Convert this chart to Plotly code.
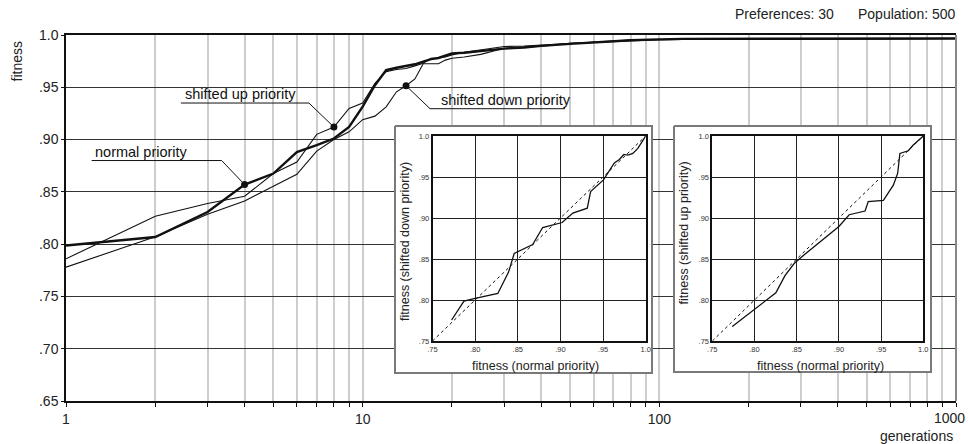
import numpy as np
import plotly.graph_objects as go

# ---------------- data ----------------
GENERATIONS = [1, 2, 3, 4, 5, 6, 7, 8, 9, 10, 11, 12, 13, 14, 15, 16, 17, 18, 19, 20,
               22, 25, 30, 35, 40, 50, 60, 70, 80, 100, 120, 1000]
NORMAL = [0.7987, 0.8068, 0.8307, 0.8570, 0.8675, 0.8880, 0.8946, 0.9010, 0.9120, 0.9314,
          0.9520, 0.9665, 0.9687, 0.9703, 0.9720, 0.9745, 0.9770, 0.9780, 0.9800, 0.9824,
          0.9830, 0.9845, 0.9870, 0.9880, 0.9896, 0.9915, 0.9930, 0.9940, 0.9950, 0.9958,
          0.9963, 0.9966]
SHIFTED_UP = [0.7860, 0.8266, 0.8388, 0.8458, 0.8675, 0.8786, 0.9050, 0.9120, 0.9298, 0.9350,
              0.9537, 0.9650, 0.9670, 0.9680, 0.9705, 0.9730, 0.9777, 0.9780, 0.9790, 0.9810,
              0.9835, 0.9856, 0.9890, 0.9895, 0.9904, 0.9926, 0.9936, 0.9942, 0.9952, 0.9955,
              0.9958, 0.9966]
SHIFTED_DOWN = [0.7780, 0.8070, 0.8285, 0.8412, 0.8553, 0.8668, 0.8890, 0.9000, 0.9074, 0.9190,
                0.9224, 0.9313, 0.9457, 0.9515, 0.9580, 0.9725, 0.9725, 0.9725, 0.9760, 0.9777,
                0.9790, 0.9815, 0.9873, 0.9885, 0.9894, 0.9920, 0.9930, 0.9938, 0.9948, 0.9955,
                0.9958, 0.9966]

MAIN_Y_TICKS = [0.65, 0.70, 0.75, 0.80, 0.85, 0.90, 0.95, 1.0]
MAIN_Y_LABELS = [".65", ".70", ".75", ".80", ".85", ".90", ".95", "1.0"]
MAIN_X_DECADES = [1, 10, 100]
LAST_X_LABEL = "1000"

INSET_TICKS = [0.75, 0.80, 0.85, 0.90, 0.95, 1.0]
INSET_LABELS = [".75", ".80", ".85", ".90", ".95", "1.0"]
DIAGONAL = [0.75, 1.0]

# inset 1: normal vs shifted down
INSET1_NORMAL = [0.7724, 0.7869, 0.8000, 0.8266, 0.8392, 0.8458, 0.8675, 0.8792, 0.9020, 0.9146,
                 0.9315, 0.9354, 0.9505, 0.9570, 0.9632, 0.9691, 0.9743, 0.9790, 0.9849, 0.9908,
                 0.9967, 1.0]
INSET1_DOWN = [0.7756, 0.7987, 0.8020, 0.8080, 0.8340, 0.8567, 0.8677, 0.8884, 0.8945, 0.9060,
               0.9120, 0.9322, 0.9465, 0.9580, 0.9672, 0.9713, 0.9775, 0.9766, 0.9787, 0.9848,
               0.9951, 1.0]
# inset 2: normal vs shifted up
INSET2_NORMAL = [0.7737, 0.8000, 0.8253, 0.8361, 0.8472, 0.8586, 0.9000, 0.9122, 0.9310, 0.9348,
                 0.9527, 0.9645, 0.9696, 0.9723, 0.9822, 0.9881, 1.0]
INSET2_UP = [0.7676, 0.7888, 0.8088, 0.8297, 0.8448, 0.8550, 0.8897, 0.9040, 0.9085, 0.9200,
             0.9216, 0.9400, 0.9543, 0.9787, 0.9820, 0.9890, 1.0]

LABELS = [("normal priority", 4, NORMAL), ("shifted up priority", 8, SHIFTED_UP),
          ("shifted down priority", 14, SHIFTED_DOWN)]

# ---------------- layout helpers ----------------
W, H = 968, 444
L, R, T, B = 66, 12, 35, 43
PW, PH = W - L - R, H - T - B
XR = [0, 3]
YR = [0.65, 1.0]


def px(x):
    return (x - L) / PW


def py(y):
    return (H - B - y) / PH


def data_to_px(g, v):
    return (L + (np.log10(g) - XR[0]) / (XR[1] - XR[0]) * PW,
            T + (YR[1] - v) / (YR[1] - YR[0]) * PH)


def px_to_data(x, y):
    return (10 ** (XR[0] + (x - L) / PW * (XR[1] - XR[0])),
            YR[1] - (y - T) / PH * (YR[1] - YR[0]))


FONT = "Liberation Sans, Arial, sans-serif"
INK = "#111111"

fig = go.Figure()

# inset backgrounds (white panels covering the main grid)
for (x0, x1, y0, y1) in [(395, 652, 126, 373), (674, 931, 126, 372)]:
    corners = [px_to_data(x0, y0), px_to_data(x1, y0), px_to_data(x1, y1),
               px_to_data(x0, y1), px_to_data(x0, y0)]
    fig.add_trace(go.Scatter(x=[c[0] for c in corners], y=[c[1] for c in corners],
                             mode="lines", fill="toself", fillcolor="white",
                             line=dict(color="#7a7a7a", width=2), hoverinfo="skip",
                             xaxis="x", yaxis="y"))

# main curves
fig.add_trace(go.Scatter(x=GENERATIONS, y=SHIFTED_DOWN, mode="lines",
                         line=dict(color=INK, width=1.1), xaxis="x", yaxis="y"))
fig.add_trace(go.Scatter(x=GENERATIONS, y=SHIFTED_UP, mode="lines",
                         line=dict(color=INK, width=1.1), xaxis="x", yaxis="y"))
fig.add_trace(go.Scatter(x=GENERATIONS, y=NORMAL, mode="lines",
                         line=dict(color=INK, width=2.4), xaxis="x", yaxis="y"))

# label dots
dot_x = [g for _, g, _ in LABELS]
dot_y = [s[GENERATIONS.index(g)] for _, g, s in LABELS]
fig.add_trace(go.Scatter(x=dot_x, y=dot_y, mode="markers",
                         marker=dict(color=INK, size=7), xaxis="x", yaxis="y"))

# inset traces
fig.add_trace(go.Scatter(x=DIAGONAL, y=DIAGONAL, mode="lines",
                         line=dict(color=INK, width=1, dash="dot"), xaxis="x2", yaxis="y2"))
fig.add_trace(go.Scatter(x=INSET1_NORMAL, y=INSET1_DOWN, mode="lines",
                         line=dict(color=INK, width=1.3), xaxis="x2", yaxis="y2"))
fig.add_trace(go.Scatter(x=DIAGONAL, y=DIAGONAL, mode="lines",
                         line=dict(color=INK, width=1, dash="dot"), xaxis="x3", yaxis="y3"))
fig.add_trace(go.Scatter(x=INSET2_NORMAL, y=INSET2_UP, mode="lines",
                         line=dict(color=INK, width=1.3), xaxis="x3", yaxis="y3"))

# axes
x_tickvals = []
x_ticktext = []
for d in range(3):
    for m in range(1, 10):
        v = m * 10 ** d
        x_tickvals.append(v)
        x_ticktext.append(str(v) if v in MAIN_X_DECADES else "")
x_tickvals.append(1000)
x_ticktext.append("")

fig.update_layout(
    width=W, height=H,
    margin=dict(l=L, r=R, t=T, b=B, autoexpand=False),
    paper_bgcolor="white", plot_bgcolor="white",
    showlegend=False,
    font=dict(family=FONT, color="#222222"),
    xaxis=dict(type="log", range=XR, tickvals=x_tickvals, ticktext=x_ticktext,
               showgrid=True, gridcolor="#cdcdcd", gridwidth=1.5,
               ticks="outside", ticklen=4, tickcolor=INK, tickwidth=1,
               showline=True, linecolor=INK, linewidth=1.5, mirror=True,
               tickfont=dict(size=14, color="#222222"), zeroline=False, domain=[0, 1],
               automargin=False),
    yaxis=dict(range=YR, tickvals=MAIN_Y_TICKS, ticktext=MAIN_Y_LABELS,
               showgrid=True, gridcolor="#333333", gridwidth=1.2,
               ticks="outside", ticklen=3, tickcolor=INK,
               showline=True, linecolor=INK, linewidth=1.5,
               tickfont=dict(size=14, color="#222222"), zeroline=False, domain=[0, 1],
               automargin=False),
)

inset_axis = dict(range=[0.75, 1.0], tickvals=INSET_TICKS, ticktext=INSET_LABELS,
                  showgrid=True, gridcolor="#222222", gridwidth=1,
                  showline=True, linecolor=INK, linewidth=1.5, mirror=True,
                  ticks="", tickfont=dict(size=7.5, color="#333333"), zeroline=False,
                  automargin=False)

X1 = [px(432.5), px(645.7)]
X2 = [px(712.3), px(923.3)]
YI = [py(341), py(136)]
fig.update_layout(
    xaxis2=dict(domain=X1, anchor="y2", **inset_axis),
    yaxis2=dict(domain=YI, anchor="x2", **inset_axis),
    xaxis3=dict(domain=X2, anchor="y3", **inset_axis),
    yaxis3=dict(domain=YI, anchor="x3", **inset_axis),
)

shapes = []
# right border
shapes.append(dict(type="line", xref="paper", yref="paper", x0=1, x1=1, y0=0, y1=1,
                   line=dict(color="#888888", width=2), layer="above"))

# leader lines: offsets (pixels) from the dots: elbow and underline end, text left
leaders = {
    "normal priority": ((-23, -24), (-153, -24), -152),
    "shifted up priority": ((-25, -24), (-153, -24), -151),
    "shifted down priority": ((24, 23), (159, 23), 33),
}
annotations = []
for (name, g, s) in LABELS:
    (ex, ey), (ux, uy), tx = leaders[name]
    val = s[GENERATIONS.index(g)]
    dx, dy = data_to_px(g, val)
    path = "M{},{} L{},{} L{},{}".format(px(dx), py(dy), px(dx + ex), py(dy + ey),
                                         px(dx + ux), py(dy + uy))
    shapes.append(dict(type="path", xref="paper", yref="paper", path=path,
                       line=dict(color=INK, width=1), layer="above"))
    annotations.append(dict(text=name, xref="paper", yref="paper",
                            x=px(dx + tx), y=py(dy + ey - 9),
                            xanchor="left", yanchor="middle",
                            showarrow=False, font=dict(size=14.5, color="#111111")))

# inset titles
annotations += [
    dict(text="fitness (normal priority)", xref="paper", yref="paper",
         x=px(535.5), y=py(366), xanchor="center", yanchor="middle", showarrow=False,
         font=dict(size=12.5, color="#222222")),
    dict(text="fitness (normal priority)", xref="paper", yref="paper",
         x=px(820), y=py(366), xanchor="center", yanchor="middle", showarrow=False,
         font=dict(size=12.5, color="#222222")),
    dict(text="fitness (shifted down priority)", xref="paper", yref="paper",
         x=px(405), y=py(242), xanchor="center", yanchor="middle", showarrow=False,
         textangle=-90, font=dict(size=12.5, color="#222222")),
    dict(text="fitness (shifted up priority)", xref="paper", yref="paper",
         x=px(683.5), y=py(233), xanchor="center", yanchor="middle", showarrow=False,
         textangle=-90, font=dict(size=12.5, color="#222222")),
    # last x tick label, kept inside the page
    dict(text=LAST_X_LABEL, xref="paper", yref="paper", x=px(967), y=py(418),
         xanchor="right", yanchor="middle", showarrow=False,
         font=dict(size=14, color="#222222")),
    # main axis titles and header
    dict(text="fitness", xref="paper", yref="paper", x=px(16.5), y=py(62),
         xanchor="center", yanchor="middle", textangle=-90, showarrow=False,
         font=dict(size=14, color="#222222")),
    dict(text="generations", xref="paper", yref="paper", x=px(955), y=py(436),
         xanchor="right", yanchor="middle", showarrow=False,
         font=dict(size=14, color="#222222")),
    dict(text="Preferences: 30", xref="paper", yref="paper", x=px(733), y=py(14),
         xanchor="left", yanchor="middle", showarrow=False,
         font=dict(size=14, color="#222222")),
    dict(text="Population: 500", xref="paper", yref="paper", x=px(856), y=py(14),
         xanchor="left", yanchor="middle", showarrow=False,
         font=dict(size=14, color="#222222")),
]

fig.update_layout(shapes=shapes, annotations=annotations)
fig.write_html("out.html")
